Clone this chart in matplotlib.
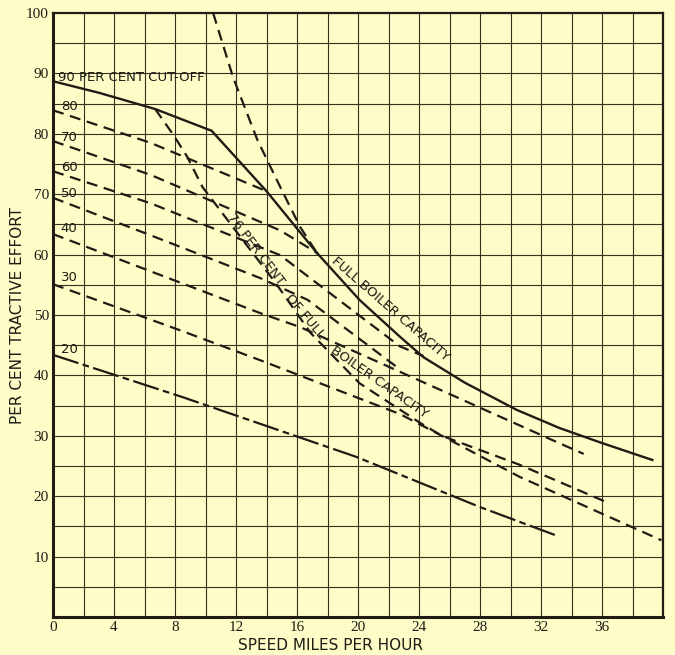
import matplotlib.pyplot as plt
import numpy as np

# values: speed (miles per hour) vs per cent tractive effort
x_ticks = [0, 4, 8, 12, 16, 20, 24, 28, 32, 36]
y_ticks = [10, 20, 30, 40, 50, 60, 70, 80, 90, 100]

cut90_x = [0, 3.0, 6.7, 10.4, 14.0, 17.3]
cut90_y = [88.7, 86.8, 84.1, 80.5, 70.5, 60.3]

boiler_steep_x = [10.5, 11.8, 13.4, 14.9, 16.2, 17.3]
boiler_steep_y = [100, 89.4, 79.0, 71.2, 64.6, 60.3]

boiler_x = [17.3, 20.1, 22.75, 24.3, 27.0, 30.4, 33.2, 36.0, 39.3]
boiler_y = [60.3, 52.5, 46.4, 43.0, 38.8, 34.3, 31.3, 28.8, 26.0]

pct76_x = [6.7, 7.9, 8.8, 9.8, 10.4, 12.3, 14.6, 16.9, 20.1, 24.1, 25.5, 30.6, 36.4]
pct76_y = [84.1, 79.8, 76.2, 71.2, 69.2, 62.9, 55.3, 47.0, 38.7, 32.1, 30.0, 25.2, 18.9]

c80_x = [0, 6.4, 14.0]
c80_y = [83.9, 78.5, 70.5]
c70_x = [0, 6.4, 14.9, 17.3]
c70_y = [78.8, 73.2, 64.0, 60.3]
c60_x = [0, 6.4, 14.9, 19.0, 22.75, 24.3]
c60_y = [73.8, 68.5, 59.9, 52.0, 44.8, 43.2]
c50_x = [0, 6.4, 13.6, 16.7, 22.75]
c50_y = [69.4, 63.2, 56.1, 52.5, 41.0]
c40_x = [0, 13.6, 16.2, 22.75, 33.0, 34.8]
c40_y = [63.4, 50.3, 48.0, 40.6, 29.0, 27.0]
c30_x = [0, 8.3, 13.6, 22.75, 25.5, 30.6, 39.9]
c30_y = [55.1, 47.5, 42.5, 33.6, 30.0, 23.2, 12.7]
c20_x = [0, 8.5, 12.3, 19.9, 28.0, 33.1]
c20_y = [43.4, 36.4, 33.1, 26.5, 18.2, 13.4]

cut_labels = ['80', '70', '60', '50', '40', '30', '20']
cut_label_y = [84.5, 79.4, 74.5, 70.1, 64.3, 56.2, 44.3]

paper = '#fefdc8'
ink = '#1e1c14'

fig = plt.figure(figsize=(6.75, 6.55), dpi=100, facecolor=paper)
ax = fig.add_axes([53 / 675, 38 / 655, 610 / 675, 604 / 655], facecolor=paper)
ax.set_xlim(0, 40)
ax.set_ylim(0, 100)

# grid every 2 mph / 5 per cent
for gx in np.arange(2, 40, 2):
    ax.axvline(gx, color='#34311f', lw=0.8, zorder=0)
for gy in np.arange(5, 100, 5):
    ax.axhline(gy, color='#34311f', lw=0.8, zorder=0)

dash = (0, (5, 3))
lw = 1.6
ax.plot(cut90_x, cut90_y, color=ink, lw=1.7)
ax.plot(boiler_x, boiler_y, color=ink, lw=1.7)
ax.plot(boiler_steep_x, boiler_steep_y, color=ink, lw=lw, ls=dash)
ax.plot(pct76_x, pct76_y, color=ink, lw=lw, ls=dash)
for xs, ys in [(c80_x, c80_y), (c70_x, c70_y), (c60_x, c60_y),
               (c50_x, c50_y), (c40_x, c40_y), (c30_x, c30_y)]:
    ax.plot(xs, ys, color=ink, lw=lw, ls=dash)
ax.plot(c20_x, c20_y, color=ink, lw=lw, ls=(0, (12, 2, 3, 2)))

lab = dict(color=ink, fontsize=9.5, family='DejaVu Sans')
ax.text(0.3, 89.4, '90 PER CENT CUT-OFF', va='center', ha='left', **lab)
for t, yy in zip(cut_labels, cut_label_y):
    ax.text(0.5, yy, t, va='center', ha='left', **lab)

ax.text(22.1, 51.0, 'FULL BOILER CAPACITY', rotation=-41, ha='center', va='center',
        rotation_mode='anchor', **lab)
ax.text(13.3, 60.8, '76 PER CENT', rotation=-53, ha='center', va='center',
        rotation_mode='anchor', **lab)
ax.text(16.5, 49.8, 'OF FULL', rotation=-50, ha='center', va='center',
        rotation_mode='anchor', **lab)
ax.text(21.4, 38.9, 'BOILER CAPACITY', rotation=-35, ha='center', va='center',
        rotation_mode='anchor', **lab)

ax.set_xticks(x_ticks)
ax.set_yticks(y_ticks)
ax.set_xticklabels([str(v) for v in x_ticks], family='Liberation Serif', fontsize=11, color=ink)
ax.set_yticklabels([str(v) for v in y_ticks], family='Liberation Serif', fontsize=11, color=ink)
ax.tick_params(length=0, pad=3)

for side in ['left', 'bottom']:
    ax.spines[side].set_linewidth(2.2)
    ax.spines[side].set_color(ink)
for side in ['top', 'right']:
    ax.spines[side].set_linewidth(1.6)
    ax.spines[side].set_color(ink)

ax.set_ylabel('PER CENT TRACTIVE EFFORT', fontsize=11, color=ink)
ax.yaxis.set_label_coords(-28 / 610, 0.5)
fig.text(331 / 675, 9 / 655, 'SPEED MILES PER HOUR', fontsize=11, color=ink,
         ha='center', va='center')

fig.savefig('out.png', dpi=100, facecolor=paper)
